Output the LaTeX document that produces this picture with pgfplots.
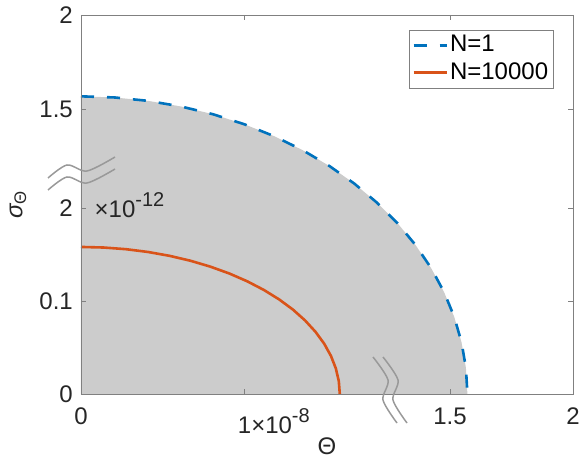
\documentclass[border=0pt]{standalone}
\usepackage{pgfplots}
\pgfplotsset{compat=1.18}
\usepackage{fontspec}
\setmainfont{Liberation Sans}
\definecolor{mblue}{rgb}{0,0.447,0.741}
\definecolor{morange}{rgb}{0.85,0.325,0.098}
\definecolor{fillgray}{rgb}{0.8,0.8,0.8}
\definecolor{axgray}{rgb}{0.5,0.5,0.5}
\definecolor{breakgray}{rgb}{0.6,0.6,0.6}
\definecolor{txt}{rgb}{0.15,0.15,0.15}
\newcommand{\bigf}{\fontsize{24}{28}\selectfont}
\newcommand{\supf}{\fontsize{20}{24}\selectfont}
\begin{document}
\bigf
\begin{tikzpicture}
\begin{axis}[
  scale only axis, width=492pt, height=379pt,
  xmin=0, xmax=2, ymin=0, ymax=2,
  axis on top,
  clip=false,
  axis line style={axgray, line width=0.8pt},
  every tick/.style={axgray, line width=0.8pt},
  major tick length=5pt,
  xtick={0,0.665,1.5,2},
  xticklabels={{0},{1\rlap{×10\raisebox{11pt}{\supf -8}}},{1.5},{2}},
  ytick={0,0.49,0.98,1.5,2},
  yticklabels={{0},{0.1},{2},{1.5},{2}},
  tick label style={font=\bigf, text=txt},
  xticklabel style={yshift=-6pt},
  xlabel={Θ},
  ylabel={{\itshape σ}\textsubscript{Θ}},
  label style={font=\bigf, text=txt, inner sep=0pt},
  xlabel style={at={(axis description cs:0.5,0)}, anchor=center, yshift=-52pt},
  ylabel style={at={(axis description cs:0,0.5)}, anchor=center, yshift=63pt},
  legend style={at={(rel axis cs:0.96,0.96)}, anchor=north east, draw=axgray,
    font=\bigf, text=black, legend cell align=left, inner sep=3pt, row sep=3pt},
  legend image code/.code={\draw[#1] (0pt,0pt) -- (33pt,0pt);},
]
% gray region under N=1
\addplot[fill=fillgray, draw=none, forget plot] coordinates {
(0,0) (1.5708,0) (1.5648,0.1370) (1.5469,0.2727) (1.5173,0.4065) (1.4761,0.5372)
(1.4236,0.6638) (1.3603,0.7854) (1.2868,0.9010) (1.2032,1.0097) (1.1107,1.1107)
(1.0097,1.2032) (0.9010,1.2868) (0.7854,1.3603) (0.6638,1.4236) (0.5372,1.4761)
(0.4065,1.5173) (0.2727,1.5469) (0.1370,1.5648) (0,1.5708)} -- cycle;
% N=1
\addplot[mblue, line width=2.6pt, dash pattern=on 13pt off 13pt] coordinates {
(0,1.5708) (0.1370,1.5648) (0.2727,1.5469) (0.4065,1.5173) (0.5372,1.4761)
(0.6638,1.4236) (0.7854,1.3603) (0.9010,1.2868) (1.0097,1.2032) (1.1107,1.1107)
(1.2032,1.0097) (1.2868,0.9010) (1.3603,0.7854) (1.4236,0.6638) (1.4761,0.5372)
(1.5173,0.4065) (1.5469,0.2727) (1.5648,0.1370) (1.5708,0)};
\addlegendentry{N=1}
% N=10000
\addplot[morange, line width=2.6pt] coordinates {
(0,0.776) (0.0917,0.7730) (0.1826,0.7642) (0.2723,0.7495) (0.3598,0.7292)
(0.4446,0.7033) (0.5260,0.6720) (0.6034,0.6357) (0.6762,0.5944) (0.7439,0.5487)
(0.8058,0.4988) (0.8618,0.4451) (0.9110,0.3880) (0.9534,0.3279) (0.9886,0.2654)
(1.0161,0.2008) (1.0360,0.1347) (1.0480,0.0677) (1.0520,0)};
\addlegendentry{N=10000}
\node[anchor=base west, inner sep=0pt, text=txt, font=\bigf] at (axis cs:0.055,0.929)
  {×10\raisebox{11pt}{\supf -12}};
\end{axis}
% axis break marks
\draw[breakgray, line width=1.5pt] plot[smooth] coordinates {(-33pt,216pt) (-14pt,229pt) (6pt,223pt) (34pt,237pt)};
\draw[breakgray, line width=1.5pt] plot[smooth] coordinates {(-33pt,204pt) (-14pt,217pt) (6pt,211pt) (34pt,225pt)};
\draw[breakgray, line width=1.5pt] plot[smooth] coordinates {(292pt,37pt) (307pt,14pt) (302pt,-6pt) (316pt,-29pt)};
\draw[breakgray, line width=1.5pt] plot[smooth] coordinates {(302pt,37pt) (317pt,14pt) (312pt,-6pt) (326pt,-29pt)};
\pgfresetboundingbox
\useasboundingbox (-81pt,-64pt) rectangle (503pt,394pt);
\end{tikzpicture}
\end{document}
